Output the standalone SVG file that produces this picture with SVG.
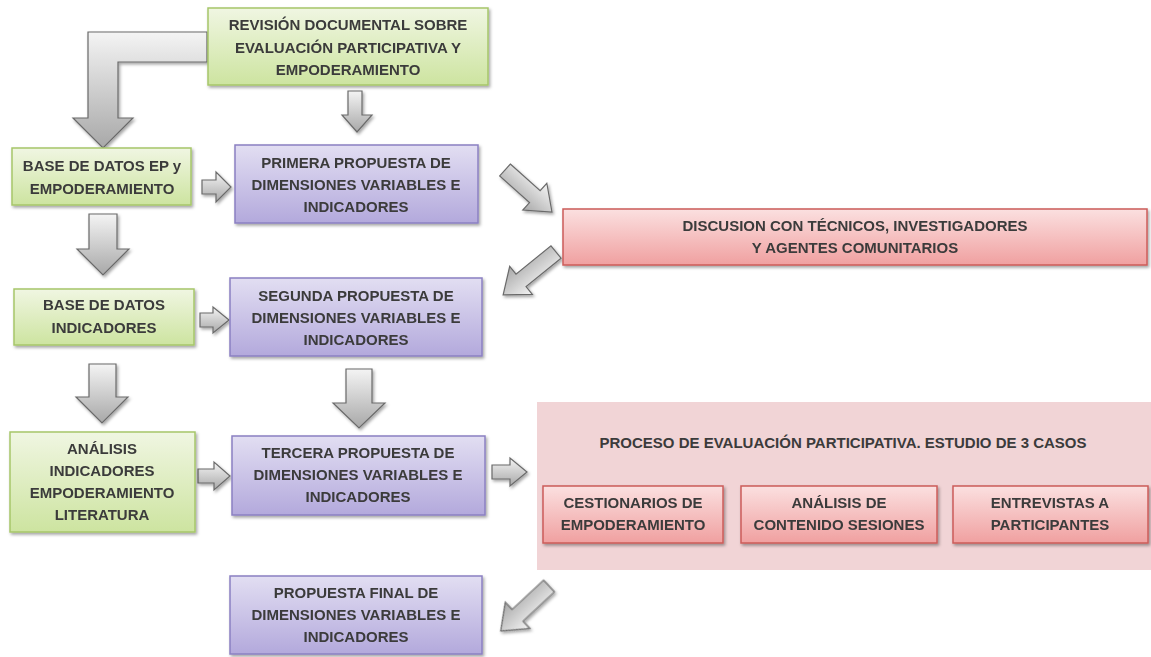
<svg xmlns="http://www.w3.org/2000/svg" width="1151" height="657" viewBox="0 0 1151 657">
<defs>
<linearGradient id="gGreen" x1="0" y1="0" x2="0" y2="1"><stop offset="0" stop-color="#f0f6e2"/><stop offset="1" stop-color="#cde4a0"/></linearGradient>
<linearGradient id="gPurple" x1="0" y1="0" x2="0" y2="1"><stop offset="0" stop-color="#e2def2"/><stop offset="1" stop-color="#b3a9dc"/></linearGradient>
<linearGradient id="gRed" x1="0" y1="0" x2="0" y2="1"><stop offset="0" stop-color="#fbe0e0"/><stop offset="1" stop-color="#f0a0a0"/></linearGradient>
<linearGradient id="gGray" x1="0" y1="0" x2="0" y2="1"><stop offset="0" stop-color="#f4f4f4"/><stop offset="1" stop-color="#a8a8a8"/></linearGradient>
<filter id="sh" x="-10%" y="-10%" width="120%" height="130%"><feDropShadow dx="1.5" dy="2" stdDeviation="1.5" flood-color="#000" flood-opacity="0.35"/></filter>
<style>
.t{font-family:"Liberation Sans",Arial,sans-serif;font-weight:bold;font-size:15px;fill:#3b3b3b;text-anchor:middle}
.green{fill:url(#gGreen);stroke:#a6c66a;stroke-width:1.5}
.purple{fill:url(#gPurple);stroke:#8b80c2;stroke-width:1.5}
.red{fill:url(#gRed);stroke:#cc5c5a;stroke-width:1.5}
.arr{fill:url(#gGray);stroke:#6a6a6a;stroke-width:1.2;stroke-linejoin:miter}
</style>
</defs>
<rect width="1151" height="657" fill="#ffffff"/>

<g id="proceso">
<rect x="537" y="402" width="614" height="168" fill="#f1d4d6"/>
<text class="t" x="843" y="448">PROCESO DE EVALUACIÓN PARTICIPATIVA. ESTUDIO DE 3 CASOS</text>
</g>

<g id="connectors" filter="url(#sh)">
<path class="arr" d="M207,32 H88 V118 H73 L103,148 L133,118 H118 V62 H207 Z"/>
<path class="arr" d="M348,91 H362 V115 H372 L357,132 L342,115 H348 Z"/>
<path class="arr" d="M202,180 H216 V172 L231,187 L216,202 V194 H202 Z"/>
<path class="arr" d="M89,214 H117 V249 H129 L103,275 L77,249 H89 Z"/>
<path class="arr" d="M200,313 H213 V307 L229,320 L213,333 V327 H200 Z"/>
<path class="arr" d="M89,364 H116 V397 H128 L102,423 L76,397 H89 Z"/>
<path class="arr" d="M346,369 H372 V403 H385 L359,428 L333,403 H346 Z"/>
<path class="arr" d="M198,469 H214 V462 L230,476 L214,490 V483 H198 Z"/>
<path class="arr" d="M492,465 H510 V458 L527,472 L510,486 V479 H492 Z"/>
<g transform="translate(505,170) rotate(41.8)"><path class="arr" d="M0,-8 H40 V-18 L63,0 L40,18 V8 H0 Z"/></g>
<g transform="translate(556,252) rotate(141)"><path class="arr" d="M0,-8 H45 V-18 L68,0 L45,18 V8 H0 Z"/></g>
<g transform="translate(549,586) rotate(137)"><path class="arr" d="M0,-8 H43 V-18 L66,0 L43,18 V8 H0 Z"/></g>
</g>

<g id="revision" filter="url(#sh)">
<rect class="green" x="208" y="8" width="280" height="77"/>
<text class="t" x="348" y="30">REVISIÓN DOCUMENTAL SOBRE</text>
<text class="t" x="348" y="53">EVALUACIÓN PARTICIPATIVA Y</text>
<text class="t" x="348" y="75">EMPODERAMIENTO</text>
</g>

<g id="baseEP" filter="url(#sh)">
<rect class="green" x="12" y="148" width="179" height="57"/>
<text class="t" x="102" y="171">BASE DE DATOS EP y</text>
<text class="t" x="102" y="194">EMPODERAMIENTO</text>
</g>

<g id="primera" filter="url(#sh)">
<rect class="purple" x="235" y="145" width="243" height="78"/>
<text class="t" x="356" y="168">PRIMERA PROPUESTA DE</text>
<text class="t" x="356" y="190">DIMENSIONES VARIABLES E</text>
<text class="t" x="356" y="212">INDICADORES</text>
</g>

<g id="discusion" filter="url(#sh)">
<rect class="red" x="563" y="209" width="584" height="56"/>
<text class="t" x="855" y="231">DISCUSION CON TÉCNICOS, INVESTIGADORES</text>
<text class="t" x="855" y="253">Y AGENTES COMUNITARIOS</text>
</g>

<g id="baseInd" filter="url(#sh)">
<rect class="green" x="14" y="289" width="180" height="56"/>
<text class="t" x="104" y="310">BASE DE DATOS</text>
<text class="t" x="104" y="333">INDICADORES</text>
</g>

<g id="segunda" filter="url(#sh)">
<rect class="purple" x="230" y="278" width="252" height="78"/>
<text class="t" x="356" y="301">SEGUNDA PROPUESTA DE</text>
<text class="t" x="356" y="323">DIMENSIONES VARIABLES E</text>
<text class="t" x="356" y="345">INDICADORES</text>
</g>

<g id="analisis" filter="url(#sh)">
<rect class="green" x="10" y="432" width="185" height="100"/>
<text class="t" x="102" y="454">ANÁLISIS</text>
<text class="t" x="102" y="476">INDICADORES</text>
<text class="t" x="102" y="498">EMPODERAMIENTO</text>
<text class="t" x="102" y="520">LITERATURA</text>
</g>

<g id="tercera" filter="url(#sh)">
<rect class="purple" x="232" y="436" width="253" height="79"/>
<text class="t" x="358" y="458">TERCERA PROPUESTA DE</text>
<text class="t" x="358" y="480">DIMENSIONES VARIABLES E</text>
<text class="t" x="358" y="502">INDICADORES</text>
</g>

<g id="cestionarios" filter="url(#sh)">
<rect class="red" x="543" y="486" width="180" height="57"/>
<text class="t" x="633" y="508">CESTIONARIOS DE</text>
<text class="t" x="633" y="530">EMPODERAMIENTO</text>
</g>

<g id="contenido" filter="url(#sh)">
<rect class="red" x="741" y="486" width="196" height="57"/>
<text class="t" x="839" y="508">ANÁLISIS DE</text>
<text class="t" x="839" y="530">CONTENIDO SESIONES</text>
</g>

<g id="entrevistas" filter="url(#sh)">
<rect class="red" x="953" y="486" width="195" height="57"/>
<text class="t" x="1050" y="508">ENTREVISTAS A</text>
<text class="t" x="1050" y="530">PARTICIPANTES</text>
</g>

<g id="final" filter="url(#sh)">
<rect class="purple" x="230" y="576" width="252" height="78"/>
<text class="t" x="356" y="598">PROPUESTA FINAL DE</text>
<text class="t" x="356" y="620">DIMENSIONES VARIABLES E</text>
<text class="t" x="356" y="642">INDICADORES</text>
</g>
</svg>
